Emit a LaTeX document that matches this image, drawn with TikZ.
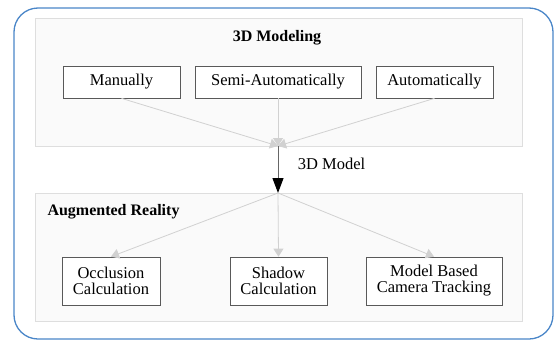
\documentclass[tikz,border=0pt]{standalone}
\usepackage{fontspec}
\setmainfont{Liberation Serif}
\usetikzlibrary{arrows.meta}
\definecolor{frameblue}{RGB}{74,134,200}
\begin{document}
\begin{tikzpicture}[x=1pt,y=-1pt,
  outer/.style={draw=frameblue, line width=1.3pt, rounded corners=24pt},
  group/.style={draw=black!13, fill=black!2, line width=0.8pt},
  item/.style={draw=black!65, fill=white, line width=0.7pt, inner sep=0pt, font=\fontsize{16.5}{16}\selectfont, align=center},
  title/.style={font=\fontsize{16}{16}\selectfont\bfseries},
  flow/.style={draw=black!18, line width=0.8pt, -{Triangle[length=8pt,width=10pt]}},
  main/.style={draw=black!60, line width=1pt, -{Triangle[length=15pt,width=11pt,color=black]}}]
\useasboundingbox (0,0) rectangle (554,343);
\draw[outer] (14,8) rectangle (553,339);
\draw[group] (35,18) rectangle (522,146);
\draw[group] (35,193) rectangle (522,321);
\node[title] (t1) at (277,38) {3D Modeling};
\node[title, anchor=west] (t2) at (44,212) {Augmented Reality};
\node[item, minimum width=117pt, minimum height=32pt] (man) at (121.5,82) {Manually};
\node[item, minimum width=166pt, minimum height=32pt] (semi) at (278,82) {Semi-Automatically};
\node[item, minimum width=117pt, minimum height=32pt] (aut) at (434.5,82) {Automatically};
\coordinate (top) at (278,146);
\coordinate (bot) at (278,193);
\draw[flow] (man.south) -- (top);
\draw[flow] (semi.south) -- (top);
\draw[flow] (aut.south) -- (top);
\draw[main] (top) -- (bot) node[pos=0.38, right=16pt, font=\fontsize{16.5}{16}\selectfont] (lbl) {3D Model};
\node[item, minimum width=98pt, minimum height=48pt] (occ) at (111,281) {Occlusion\\Calculation};
\node[item, minimum width=97pt, minimum height=48pt] (sha) at (278.5,281) {Shadow\\Calculation};
\node[item, minimum width=136pt, minimum height=48pt] (mbc) at (434,281) {Model Based\\Camera Tracking};
\draw[flow] (bot) -- (occ.north);
\draw[flow] (bot) -- (sha.north);
\draw[flow] (bot) -- (mbc.north);
\end{tikzpicture}
\end{document}
